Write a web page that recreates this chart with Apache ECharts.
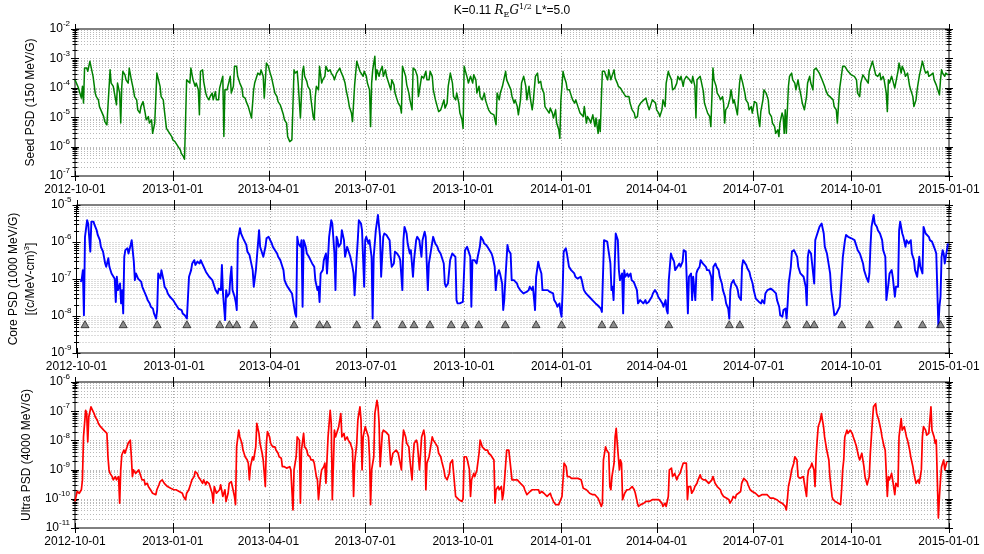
<!DOCTYPE html>
<html>
<head>
<meta charset="utf-8">
<script src="https://cdn.jsdelivr.net/npm/echarts@6/dist/echarts.min.js"></script>
<style>
  html, body { margin: 0; padding: 0; background: #fff; }
  #chart { width: 984px; height: 554px; }
</style>
</head>
<body>
<div id="chart"></div>
<script>
// Phase space density at K=0.11 RE G^1/2, L*=5.0, October 2012 - December 2014.
// Each series entry: [days since 2012-10-01, log10(PSD)].

const startDate = '2012-10-01';
const endDate = '2015-01-01';
const dateTicks = ['2012-10-01', '2013-01-01', '2013-04-01', '2013-07-01', '2013-10-01',
                   '2014-01-01', '2014-04-01', '2014-07-01', '2014-10-01', '2015-01-01'];

// decade range (log10) of each panel
const seedDecades = [-7, -2];
const coreDecades = [-9, -5];
const ultraDecades = [-11, -6];

const seedPsd = [
[0,-3.73],[3,-3.98],[6,-4.35],[7,-3.95],[8,-4.52],[9,-3.33],[11,-3.33],[12,-3.44],[14,-3.1],[16,-3.44],[17,-3.61],[19,-4.18],[20,-4.3],[22,-4.41],[23,-4.64],[25,-4.81],[27,-4.98],[28,-5.15],[30,-5.26],[31,-5.2],[33,-3.39],[34,-3.84],[36,-3.95],[37,-3.9],[39,-4.58],[40,-3.84],[42,-4.18],[43,-5.2],[44,-3.95],[45,-3.44],[47,-3.56],[48,-3.73],[50,-3.84],[51,-3.33],[53,-3.73],[55,-4.07],[56,-4.3],[58,-4.41],[59,-4.75],[61,-4.86],[62,-4.64],[64,-4.47],[66,-4.86],[67,-5.09],[69,-4.98],[70,-5.2],[72,-5.09],[73,-5.55],[75,-5.2],[77,-3.5],[80,-3.95],[81,-4.3],[83,-4.41],[84,-4.75],[86,-5.38],[87,-5.32],[89,-5.55],[91,-5.66],[92,-5.77],[94,-5.83],[95,-5.89],[97,-6.0],[99,-6.11],[100,-6.23],[102,-6.34],[103,-6.43],[104,-6.45],[105,-3.73],[106,-3.67],[108,-3.84],[109,-3.33],[111,-3.73],[113,-3.95],[114,-3.84],[116,-4.07],[117,-4.92],[118,-3.44],[120,-3.39],[121,-3.78],[123,-4.18],[124,-4.3],[126,-4.41],[127,-4.3],[129,-4.18],[130,-4.41],[132,-4.13],[133,-4.41],[135,-4.41],[136,-4.01],[138,-3.73],[139,-3.61],[140,-5.66],[141,-4.07],[143,-4.07],[144,-4.01],[146,-3.61],[147,-4.18],[149,-3.95],[150,-3.27],[152,-3.27],[153,-3.61],[155,-3.84],[157,-4.01],[158,-4.3],[160,-4.35],[161,-4.47],[163,-4.64],[164,-4.69],[166,-5.03],[168,-4.07],[169,-3.84],[171,-3.61],[172,-3.5],[174,-3.56],[175,-3.39],[177,-3.61],[178,-4.35],[180,-3.16],[182,-3.27],[183,-3.44],[185,-3.67],[186,-3.84],[188,-4.18],[190,-4.3],[191,-4.47],[193,-4.58],[194,-4.69],[196,-4.92],[197,-5.09],[199,-5.2],[200,-5.66],[202,-5.83],[203,-5.89],[204,-5.77],[206,-3.39],[207,-3.5],[209,-3.44],[210,-3.9],[211,-3.95],[212,-5.03],[214,-3.44],[215,-3.27],[216,-3.61],[218,-3.78],[219,-3.95],[221,-4.07],[222,-4.41],[224,-4.98],[225,-5.09],[226,-4.3],[227,-3.95],[229,-4.07],[230,-3.27],[232,-3.84],[233,-3.73],[235,-3.61],[236,-3.27],[238,-3.44],
[240,-3.39],[241,-3.5],[243,-3.61],[244,-3.73],[246,-3.5],[247,-3.44],[249,-3.33],[250,-3.44],[252,-3.61],[254,-3.84],[255,-4.07],[257,-4.41],[258,-4.64],[260,-4.86],[261,-5.15],[263,-3.9],[265,-3.1],[266,-3.16],[268,-3.44],[269,-3.5],[271,-3.61],[272,-3.44],[274,-3.61],[275,-3.84],[277,-4.07],[278,-5.32],[279,-3.84],[280,-3.39],[282,-2.93],[283,-3.73],[284,-3.39],[286,-3.61],[287,-3.44],[289,-3.27],[290,-3.61],[292,-3.39],[293,-3.61],[295,-3.84],[297,-4.07],[298,-3.73],[300,-3.9],[301,-4.18],[303,-4.41],[304,-4.52],[306,-4.64],[307,-4.86],[308,-3.27],[309,-3.22],[311,-3.61],[312,-3.9],[314,-4.18],[315,-4.41],[317,-4.75],[318,-3.33],[320,-3.39],[322,-3.61],[323,-4.3],[325,-3.84],[326,-3.61],[328,-3.67],[330,-3.44],[331,-3.73],[333,-3.73],[334,-3.44],[336,-3.61],[337,-4.07],[339,-4.41],[340,-4.47],[342,-4.81],[344,-4.75],[345,-4.64],[347,-4.41],[348,-4.69],[350,-4.52],[351,-3.95],[353,-3.5],[355,-3.84],[356,-4.3],[358,-4.41],[359,-4.18],[361,-4.52],[362,-4.86],[364,-5.09],[365,-5.38],[366,-3.27],[367,-3.27],[369,-3.67],[370,-3.84],[372,-3.61],[374,-3.84],[375,-3.56],[377,-3.73],[378,-4.18],[380,-3.95],[381,-4.3],[383,-4.41],[385,-4.18],[386,-4.41],[388,-4.64],[389,-4.75],[391,-4.86],[392,-4.92],[394,-4.92],[396,-5.26],[397,-4.18],[399,-4.41],[400,-4.18],[402,-3.95],[403,-3.78],[405,-3.44],[406,-3.73],[408,-3.9],[410,-4.07],[411,-4.3],[413,-4.52],[414,-4.41],[416,-4.64],[417,-4.92],[419,-4.41],[420,-3.84],[422,-3.61],[424,-3.95],[425,-4.41],[427,-3.95],[428,-4.3],[430,-4.75],[431,-4.47],[433,-3.61],[435,-3.5],[436,-3.84],[438,-3.78],[439,-4.01],[441,-4.18],[442,-4.64],[444,-4.75],[446,-4.86],[447,-4.69],[449,-4.86],[450,-5.03],[452,-4.75],[453,-5.2],[455,-5.43],[456,-5.72],[457,-4.41],[459,-3.44],[460,-3.61],[462,-3.84],[463,-4.07],[465,-4.07],[467,-4.3],[468,-4.41],[470,-4.52],[471,-4.41],[473,-4.64],[475,-4.86],[476,-4.92],[478,-4.98],[479,-4.64],[481,-5.2],[482,-4.98],[484,-5.09],[485,-5.2],[487,-4.92],[489,-5.32],[490,-5.03],[492,-5.55],[493,-5.09],[494,-5.49],[495,-4.41],[496,-3.44],[498,-3.44],[499,-3.56],[501,-3.73],[502,-3.39],[504,-3.73],[505,-3.61],[507,-3.39],[508,-3.67],[510,-3.84],[511,-3.95],[513,-4.01],[515,-4.13],[516,-4.07],[518,-4.3],[519,-4.35],[521,-4.3],[522,-4.52],[524,-4.75],[526,-4.86],[527,-5.03],[529,-4.98],[530,-4.64],[532,-4.52],[533,-4.58],[535,-4.41],[537,-4.35],[538,-4.52],[540,-4.75],[541,-4.64],[543,-4.41],[544,-4.41],[546,-4.52],[547,-4.75],[549,-4.86],
[550,-4.98],[552,-4.75],[553,-4.41],[555,-4.64],[556,-3.84],[558,-3.44],[559,-3.56],[561,-3.73],[562,-4.07],[564,-4.01],[566,-3.84],[567,-3.61],[569,-3.73],[570,-3.61],[572,-3.95],[573,-3.73],[575,-3.61],[576,-3.56],[578,-3.73],[580,-3.84],[581,-3.61],[583,-3.95],[584,-5.03],[585,-3.73],[586,-3.67],[588,-3.61],[589,-3.78],[591,-4.13],[592,-4.52],[594,-4.75],[595,-4.86],[597,-4.98],[598,-5.32],[600,-3.33],[601,-3.73],[603,-3.95],[604,-4.18],[606,-4.3],[607,-4.41],[609,-4.3],[610,-4.52],[611,-5.2],[612,-4.75],[614,-4.64],[616,-4.35],[617,-4.07],[619,-4.52],[620,-4.41],[622,-4.75],[623,-4.92],[625,-3.84],[626,-3.56],[628,-3.84],[630,-4.18],[631,-4.41],[633,-4.52],[634,-4.75],[636,-4.64],[637,-4.86],[639,-4.47],[641,-4.52],[642,-4.86],[644,-5.32],[645,-4.81],[647,-4.41],[648,-4.07],[650,-4.18],[652,-4.41],[653,-4.86],[655,-4.98],[656,-5.2],[658,-5.32],[659,-5.55],[661,-5.43],[662,-5.66],[663,-5.2],[665,-4.86],[666,-4.98],[667,-5.55],[668,-4.75],[669,-5.55],[671,-3.95],[672,-3.61],[674,-3.5],[675,-3.73],[677,-3.84],[678,-4.07],[680,-3.73],[681,-3.95],[683,-4.3],[684,-4.52],[686,-4.75],[688,-4.3],[689,-3.84],[691,-3.61],[692,-3.84],[694,-4.07],[695,-3.39],[697,-3.33],[698,-3.39],[700,-3.5],[702,-3.67],[703,-3.73],[705,-3.95],[706,-4.07],[708,-4.24],[710,-4.3],[711,-4.24],[713,-4.41],[714,-4.64],[716,-4.75],[717,-5.2],[719,-4.07],[720,-4.01],[722,-3.27],[724,-3.27],[725,-3.33],[727,-3.44],[728,-3.44],[730,-3.56],[731,-3.5],[733,-3.61],[735,-3.73],[736,-4.18],[738,-4.3],[739,-3.84],[741,-3.56],[742,-3.61],[744,-3.73],[746,-3.84],[747,-3.44],[749,-3.22],[750,-3.1],[752,-3.39],[753,-3.56],[755,-3.61],[757,-3.5],[758,-3.73],[760,-3.61],[761,-3.73],[763,-4.18],[764,-4.81],[765,-3.73],[766,-3.84],[768,-3.61],[769,-3.73],[771,-4.01],[772,-4.07],[774,-3.44],[775,-3.16],[777,-3.5],[778,-3.27],[780,-3.44],[781,-3.61],[783,-3.5],[785,-3.95],[786,-4.07],[788,-4.3],[789,-4.64],[791,-4.41],[792,-4.07],[794,-3.61],[796,-3.27],[797,-3.1],[799,-3.39],[800,-3.5],[802,-3.44],[803,-3.61],[805,-3.56],[807,-3.5],[808,-3.73],[810,-3.9],[811,-3.95],[813,-4.24],[814,-3.73],[815,-3.39],[816,-3.5],[818,-3.61],[819,-3.5],[821,-3.56]
];

const corePsd = [
[4,-7.08],[5,-6.99],[6,-6.76],[7,-7.98],[8,-5.86],[10,-5.41],[11,-5.5],[13,-6.26],[14,-5.45],[16,-5.45],[17,-5.54],[19,-5.68],[20,-5.81],[22,-5.95],[23,-6.13],[25,-6.26],[27,-6.58],[28,-6.67],[30,-6.44],[31,-6.67],[33,-6.85],[34,-6.81],[36,-6.99],[37,-7.62],[38,-6.94],[39,-7.3],[41,-7.12],[42,-7.66],[43,-7.3],[44,-7.93],[45,-6.4],[46,-6.22],[48,-6.17],[49,-6.31],[51,-6.08],[52,-5.95],[54,-6.53],[55,-7.03],[56,-6.85],[58,-6.99],[59,-6.99],[61,-7.08],[62,-7.21],[64,-7.35],[66,-7.48],[67,-7.57],[69,-7.66],[70,-7.75],[72,-7.8],[73,-7.93],[75,-8.07],[76,-7.84],[77,-6.85],[79,-6.99],[80,-6.76],[82,-7.03],[83,-7.21],[85,-7.3],[86,-7.39],[88,-7.48],[89,-7.53],[91,-7.57],[93,-7.66],[94,-7.71],[96,-7.8],[97,-7.84],[99,-7.84],[100,-7.93],[102,-7.98],[104,-8.07],[105,-8.11],[106,-6.94],[108,-6.76],[109,-6.58],[111,-6.49],[112,-6.62],[114,-6.53],[116,-6.58],[117,-6.49],[119,-6.62],[120,-6.67],[122,-6.81],[123,-6.76],[125,-6.94],[126,-6.9],[128,-7.03],[130,-7.21],[131,-7.3],[133,-7.39],[134,-7.26],[136,-7.3],[137,-6.62],[138,-7.39],[139,-7.75],[140,-8.11],[141,-7.3],[142,-7.48],[144,-7.39],[145,-6.94],[146,-6.67],[147,-7.3],[149,-7.48],[150,-7.62],[151,-7.84],[152,-5.95],[154,-5.63],[155,-5.77],[157,-5.9],[158,-5.95],[160,-6.08],[161,-6.26],[163,-6.35],[164,-6.49],[166,-6.76],[167,-7.21],[169,-6.76],[170,-6.4],[172,-5.68],[173,-6.13],[175,-6.31],[176,-6.4],[178,-6.13],[179,-5.9],[181,-5.86],[182,-5.9],[184,-6.04],[185,-6.13],[187,-6.22],[189,-6.31],[190,-6.4],[192,-6.49],[193,-6.58],[195,-6.76],[196,-7.03],[198,-7.17],[200,-7.26],[201,-7.3],[203,-7.39],[204,-7.57],[206,-7.93],[207,-8.02],[208,-5.86],[209,-6.04],[211,-6.13],[212,-5.95],[213,-7.75],[214,-5.95],[216,-6.13],[217,-6.31],[219,-6.4],[220,-6.4],[222,-6.58],[224,-6.67],[225,-7.03],[227,-7.3],[228,-7.21],[229,-7.62],[230,-6.85],[232,-6.76],[233,-6.49],[235,-6.31],[236,-6.85],[237,-6.4],[238,-5.86],
[240,-5.41],[241,-5.5],[243,-6.31],[244,-7.3],[245,-5.86],[246,-5.95],[247,-6.13],[249,-6.04],[250,-5.68],[252,-5.95],[253,-6.4],[255,-6.13],[257,-6.31],[258,-6.4],[260,-6.67],[261,-6.85],[262,-7.44],[264,-6.4],[265,-5.95],[266,-5.41],[268,-5.5],[269,-5.68],[271,-7.21],[272,-5.95],[273,-5.86],[275,-6.04],[276,-5.95],[278,-6.4],[279,-8.07],[280,-6.4],[281,-6.04],[282,-5.68],[284,-5.27],[285,-5.32],[286,-5.86],[287,-6.94],[289,-5.86],[290,-5.77],[292,-5.81],[293,-5.86],[295,-5.95],[296,-6.4],[297,-6.67],[299,-6.58],[300,-6.26],[302,-6.31],[304,-6.4],[305,-6.49],[307,-7.3],[308,-5.95],[309,-5.59],[311,-5.77],[312,-6.04],[314,-6.31],[315,-6.22],[317,-6.94],[318,-6.49],[320,-5.95],[321,-5.86],[323,-5.95],[325,-6.4],[326,-5.95],[328,-5.72],[329,-5.86],[331,-7.3],[332,-6.58],[333,-6.4],[335,-6.04],[336,-5.86],[338,-6.04],[340,-6.13],[341,-6.22],[343,-6.31],[344,-6.4],[346,-6.58],[347,-7.12],[348,-7.21],[350,-7.12],[351,-7.17],[352,-6.49],[354,-6.31],[355,-6.26],[357,-6.4],[358,-7.57],[359,-7.66],[361,-7.66],[362,-7.62],[364,-7.62],[365,-7.66],[366,-6.22],[368,-6.13],[369,-6.22],[371,-6.4],[372,-7.75],[373,-6.49],[375,-6.49],[377,-6.58],[378,-6.4],[380,-6.13],[381,-5.86],[383,-5.95],[384,-6.04],[386,-6.08],[388,-6.17],[389,-6.22],[391,-6.31],[392,-6.4],[394,-6.67],[395,-7.3],[396,-6.94],[398,-6.76],[399,-6.85],[401,-7.12],[402,-7.84],[403,-7.57],[404,-7.03],[406,-6.08],[407,-6.22],[409,-6.31],[410,-7.03],[412,-7.03],[413,-7.08],[415,-7.12],[416,-7.21],[418,-7.3],[419,-7.3],[421,-7.39],[422,-7.44],[424,-7.35],[426,-7.3],[427,-7.21],[429,-7.3],[430,-7.21],[432,-7.84],[433,-6.94],[435,-6.53],[436,-6.67],[438,-6.85],[439,-7.3],[441,-7.3],[442,-7.35],[444,-7.3],[446,-7.35],[447,-7.39],[449,-7.39],[450,-7.57],[452,-7.66],[453,-7.75],[455,-7.66],[456,-7.89],[457,-8.02],[458,-7.3],[459,-6.26],[461,-6.17],[462,-6.31],[464,-6.67],[466,-6.76],[467,-6.76],[469,-6.85],[470,-6.94],[472,-6.99],[473,-6.94],[475,-6.94],[476,-7.03],[478,-7.3],[480,-7.39],[481,-7.44],[483,-7.48],[484,-7.53],[486,-7.57],[487,-7.62],[489,-7.66],[491,-7.71],[492,-7.75],[494,-7.8],[495,-7.89],[497,-5.95],[498,-5.9],[500,-5.99],[501,-6.04],[503,-6.58],[504,-7.3],[505,-7.21],[506,-7.57],[507,-6.67],[508,-5.77],[509,-5.72],[510,-5.95],[511,-6.76],[512,-7.03],[514,-6.85],[515,-7.93],[516,-6.76],[517,-6.94],[519,-6.85],[520,-6.94],[522,-6.85],[523,-7.03],[525,-7.08],[526,-7.12],[528,-7.3],[529,-7.66],[531,-7.57],[532,-7.62],[534,-7.66],[536,-7.57],[537,-7.66],[539,-7.62],[540,-7.57],[542,-7.48],[543,-7.39],[545,-7.3],[547,-7.39],[548,-7.48],
[550,-7.57],[552,-7.66],[553,-7.75],[555,-7.57],[556,-7.84],[557,-7.93],[558,-7.03],[560,-6.31],[561,-6.4],[563,-6.53],[564,-6.76],[566,-6.67],[568,-6.58],[569,-6.67],[571,-6.53],[572,-6.22],[574,-6.26],[575,-6.31],[576,-7.93],[577,-6.94],[579,-6.85],[580,-7.57],[581,-6.94],[583,-7.57],[584,-6.85],[585,-6.76],[587,-6.67],[588,-6.49],[590,-6.58],[591,-6.62],[593,-6.67],[594,-6.76],[596,-6.76],[598,-6.94],[599,-7.57],[600,-6.67],[602,-6.58],[603,-6.67],[605,-6.76],[606,-6.94],[608,-7.12],[609,-7.3],[611,-7.48],[612,-7.66],[614,-7.8],[615,-8.07],[616,-7.3],[617,-7.12],[619,-7.03],[620,-7.12],[622,-7.21],[623,-7.3],[624,-7.48],[626,-7.57],[627,-6.67],[628,-6.49],[629,-6.53],[631,-6.62],[632,-6.71],[634,-6.81],[635,-6.94],[637,-7.12],[638,-7.3],[640,-7.53],[641,-7.57],[643,-7.62],[645,-7.66],[646,-7.57],[648,-7.66],[649,-7.39],[651,-7.3],[652,-7.3],[654,-7.26],[656,-7.3],[657,-7.26],[659,-7.39],[660,-7.57],[662,-7.75],[663,-7.98],[665,-8.02],[666,-7.84],[668,-7.8],[669,-8.07],[670,-7.66],[671,-7.12],[673,-6.67],[674,-6.26],[676,-6.22],[677,-6.26],[679,-6.4],[680,-6.67],[682,-6.85],[683,-6.85],[685,-6.94],[687,-7.21],[688,-7.71],[689,-6.4],[690,-6.22],[692,-6.31],[693,-6.26],[695,-7.12],[696,-5.95],[697,-5.86],[699,-5.68],[700,-5.59],[702,-5.5],[704,-5.77],[705,-6.13],[707,-6.31],[708,-6.49],[710,-6.85],[711,-7.3],[713,-7.75],[714,-7.98],[716,-7.93],[717,-7.89],[719,-7.75],[720,-7.3],[722,-6.4],[724,-5.95],[725,-5.81],[727,-5.86],[728,-5.81],[730,-5.9],[731,-5.86],[733,-5.95],[735,-6.13],[736,-6.22],[738,-6.31],[739,-6.4],[741,-6.58],[742,-6.76],[744,-6.94],[746,-7.08],[747,-6.85],[748,-6.13],[749,-5.59],[751,-5.27],[752,-5.5],[754,-5.59],[755,-5.68],[757,-5.77],[759,-5.95],[760,-6.22],[762,-6.4],[763,-7.57],[765,-7.12],[766,-6.85],[768,-6.76],[769,-6.94],[771,-7.48],[772,-7.21],[774,-7.21],[775,-5.68],[776,-5.45],[778,-5.77],[779,-5.86],[781,-6.13],[782,-5.95],[784,-6.04],[786,-5.95],[787,-6.31],[789,-6.49],[790,-6.76],[792,-6.94],[794,-6.4],[795,-6.67],[797,-6.85],[798,-5.59],[800,-5.77],[801,-5.77],[803,-5.86],[804,-5.95],[806,-5.99],[807,-6.04],[809,-6.22],[810,-6.31],[812,-8.29],[813,-7.75],[814,-7.48],[815,-6.4],[816,-6.22],[817,-6.31],[818,-6.58],[819,-6.4],[821,-6.04]
];

const ultraPsd = [
[0,-10.09],[1,-10.15],[2,-9.75],[4,-9.81],[6,-9.69],[7,-9.35],[8,-7.88],[9,-7.42],[10,-6.97],[11,-7.08],[12,-8.05],[13,-7.19],[15,-6.85],[16,-6.91],[18,-7.08],[19,-7.19],[21,-7.31],[22,-7.42],[24,-7.53],[25,-7.59],[27,-7.65],[28,-7.65],[30,-7.76],[31,-8.56],[32,-9.01],[33,-9.13],[35,-9.24],[36,-9.35],[38,-9.24],[39,-9.35],[41,-9.24],[42,-10.15],[43,-9.01],[44,-8.5],[46,-8.33],[47,-8.44],[49,-8.22],[50,-8.1],[52,-7.99],[53,-8.56],[54,-9.24],[55,-9.01],[57,-9.13],[58,-9.07],[60,-9.01],[62,-9.24],[63,-9.35],[65,-9.35],[66,-9.52],[68,-9.47],[69,-9.58],[71,-9.69],[73,-9.81],[74,-9.75],[76,-9.86],[77,-9.69],[79,-9.52],[80,-9.41],[82,-9.35],[84,-9.47],[85,-9.52],[87,-9.58],[88,-9.58],[90,-9.64],[91,-9.64],[93,-9.69],[95,-9.69],[96,-9.75],[98,-9.75],[99,-9.69],[101,-9.81],[102,-9.92],[104,-10.03],[105,-9.81],[107,-9.69],[109,-9.47],[110,-9.35],[112,-9.24],[113,-9.07],[115,-9.13],[116,-9.24],[118,-9.35],[120,-9.47],[121,-9.35],[123,-9.52],[124,-9.41],[126,-9.47],[127,-9.58],[129,-9.81],[130,-10.15],[131,-9.58],[133,-9.81],[134,-9.86],[136,-9.69],[137,-9.52],[139,-9.92],[141,-9.69],[142,-10.09],[144,-9.81],[145,-9.47],[147,-9.41],[148,-9.58],[150,-9.92],[151,-10.2],[152,-8.22],[154,-7.65],[155,-7.88],[157,-8.1],[158,-8.33],[160,-8.56],[162,-8.67],[163,-8.78],[164,-9.35],[165,-8.9],[167,-8.56],[168,-8.67],[170,-8.22],[171,-7.42],[173,-7.76],[174,-8.1],[176,-8.44],[177,-8.67],[179,-9.58],[180,-8.1],[181,-7.7],[183,-7.88],[184,-8.1],[186,-8.22],[188,-8.22],[189,-8.33],[191,-8.44],[192,-8.56],[194,-8.61],[195,-8.9],[197,-8.9],[199,-8.95],[200,-8.9],[202,-8.9],[203,-9.01],[205,-10.38],[206,-9.01],[208,-8.56],[209,-7.88],[211,-7.99],[212,-10.15],[213,-8.33],[215,-7.76],[216,-8.22],[218,-8.33],[219,-8.5],[221,-8.56],[222,-8.67],[224,-8.67],[225,-8.78],[227,-9.24],[228,-9.35],[229,-10.03],[231,-9.24],[232,-9.01],[234,-8.9],[235,-8.78],[236,-9.47],[238,-7.88],
[240,-6.97],[241,-7.42],[242,-10.03],[244,-7.65],[245,-7.88],[247,-7.65],[248,-7.53],[250,-7.08],[251,-7.88],[253,-7.76],[254,-7.99],[256,-7.88],[257,-7.99],[259,-8.1],[261,-8.33],[262,-9.92],[263,-8.78],[265,-8.1],[266,-7.31],[268,-6.85],[269,-7.31],[270,-9.01],[271,-7.88],[273,-7.53],[274,-7.65],[276,-7.88],[277,-8.56],[278,-10.2],[279,-9.01],[281,-8.56],[282,-7.08],[284,-6.63],[285,-6.85],[286,-7.42],[287,-8.9],[289,-7.76],[290,-7.65],[292,-7.7],[293,-7.76],[295,-7.82],[296,-8.33],[297,-8.84],[299,-8.44],[300,-8.39],[302,-8.33],[304,-8.44],[305,-8.39],[307,-9.01],[308,-8.1],[309,-7.65],[311,-7.88],[312,-8.1],[314,-8.22],[315,-8.67],[317,-9.35],[318,-8.56],[319,-8.1],[321,-7.99],[322,-8.1],[324,-9.01],[325,-8.44],[326,-7.88],[328,-7.65],[329,-7.88],[330,-9.69],[331,-8.78],[333,-8.56],[334,-8.33],[336,-7.88],[337,-7.99],[339,-8.1],[341,-8.22],[342,-8.44],[344,-8.56],[345,-8.73],[347,-9.01],[348,-9.24],[350,-9.35],[352,-9.13],[353,-8.78],[355,-8.67],[356,-8.73],[358,-9.92],[359,-9.98],[361,-10.03],[362,-10.03],[364,-10.09],[365,-9.98],[366,-8.56],[368,-8.56],[369,-8.67],[371,-9.01],[372,-9.92],[373,-9.35],[375,-9.13],[376,-9.24],[378,-9.01],[380,-8.44],[381,-7.99],[383,-8.22],[384,-8.22],[386,-8.33],[388,-8.33],[389,-8.44],[391,-8.5],[392,-8.56],[394,-8.67],[395,-10.15],[396,-9.69],[398,-9.58],[399,-9.69],[401,-9.58],[402,-10.03],[403,-9.81],[404,-9.35],[406,-8.33],[408,-8.33],[409,-8.67],[411,-9.35],[413,-9.35],[414,-9.3],[416,-9.35],[417,-9.41],[419,-9.47],[420,-9.47],[422,-9.58],[423,-9.69],[425,-9.86],[426,-9.81],[428,-9.75],[430,-9.69],[431,-9.75],[433,-9.69],[434,-9.64],[436,-9.69],[437,-9.81],[439,-9.75],[441,-9.81],[442,-9.86],[444,-9.92],[445,-9.86],[447,-9.81],[448,-9.92],[450,-10.09],[452,-10.2],[453,-10.15],[455,-10.2],[456,-10.15],[458,-9.92],[459,-9.35],[460,-8.78],[462,-8.9],[463,-9.24],[465,-9.24],[467,-9.3],[468,-9.24],[470,-9.3],[471,-9.24],[473,-9.3],[474,-9.24],[476,-9.35],[478,-9.64],[479,-9.69],[481,-9.69],[482,-9.75],[484,-9.81],[485,-9.81],[487,-9.86],[489,-9.86],[490,-9.92],[492,-9.98],[493,-10.03],[495,-10.26],[496,-10.15],[497,-8.67],[499,-8.22],[500,-8.33],[502,-8.44],[503,-9.58],[504,-9.69],[505,-9.24],[507,-8.78],[508,-7.88],[509,-7.59],[510,-8.1],[512,-9.01],[513,-8.67],[514,-8.78],[515,-10.03],[517,-9.81],[518,-9.75],[519,-9.69],[521,-9.69],[522,-9.64],[524,-9.58],[526,-9.69],[527,-9.81],[529,-10.15],[530,-10.26],[532,-10.2],[533,-10.15],[535,-10.15],[537,-10.09],[538,-10.15],[540,-10.09],[541,-10.09],[543,-10.03],[544,-10.09],[546,-10.03],[547,-9.98],[549,-10.03],
[550,-10.09],[552,-10.15],[553,-10.26],[555,-10.15],[556,-10.26],[558,-9.92],[559,-9.01],[561,-8.95],[562,-9.24],[564,-9.13],[566,-9.35],[567,-9.24],[569,-9.13],[570,-9.01],[572,-8.78],[573,-8.73],[575,-8.78],[576,-10.03],[577,-9.58],[579,-9.58],[580,-9.81],[582,-9.69],[583,-9.58],[585,-9.47],[586,-9.35],[588,-9.18],[589,-9.3],[591,-9.35],[593,-9.35],[594,-9.41],[596,-9.47],[597,-9.47],[599,-9.35],[600,-9.24],[602,-9.47],[604,-9.58],[605,-9.64],[607,-9.69],[608,-9.81],[610,-9.92],[611,-9.86],[613,-9.98],[615,-10.03],[616,-10.15],[618,-10.03],[619,-9.92],[621,-9.98],[622,-9.86],[624,-9.81],[626,-9.75],[627,-9.47],[629,-9.3],[630,-9.35],[632,-9.41],[633,-9.52],[635,-9.69],[637,-9.75],[638,-9.81],[640,-9.81],[641,-9.86],[643,-9.92],[644,-9.86],[646,-9.86],[647,-9.92],[649,-9.86],[651,-9.86],[652,-9.92],[654,-9.98],[655,-9.92],[657,-9.98],[658,-10.03],[660,-10.03],[662,-10.09],[663,-10.03],[665,-10.15],[666,-10.2],[668,-10.26],[669,-10.38],[670,-10.03],[671,-9.58],[673,-9.24],[674,-9.01],[676,-8.78],[677,-8.56],[679,-8.67],[680,-9.24],[682,-9.3],[683,-9.24],[685,-9.24],[686,-9.47],[688,-9.92],[689,-9.24],[690,-9.01],[692,-8.9],[693,-8.78],[695,-9.01],[696,-9.58],[697,-8.56],[698,-7.99],[699,-7.53],[701,-7.31],[702,-7.08],[704,-7.53],[705,-7.88],[707,-8.33],[709,-8.67],[710,-9.24],[712,-9.92],[713,-10.03],[715,-10.09],[716,-10.15],[718,-10.15],[720,-10.2],[721,-9.69],[722,-9.01],[723,-8.67],[724,-7.88],[726,-7.65],[727,-7.76],[729,-7.65],[731,-7.76],[732,-7.88],[734,-8.1],[735,-8.22],[737,-8.56],[738,-8.67],[740,-8.44],[742,-8.9],[743,-9.24],[745,-9.52],[746,-9.58],[747,-9.24],[748,-8.44],[750,-7.31],[751,-6.85],[753,-6.74],[754,-7.08],[756,-7.31],[758,-7.65],[759,-7.88],[761,-8.22],[762,-8.33],[764,-9.92],[765,-9.24],[766,-9.35],[768,-9.13],[769,-9.35],[771,-9.86],[772,-9.47],[774,-9.58],[775,-7.88],[777,-7.25],[778,-7.65],[780,-7.53],[782,-7.88],[783,-7.99],[785,-8.33],[786,-8.56],[788,-8.9],[789,-9.13],[791,-9.47],[793,-9.35],[794,-9.47],[796,-9.01],[797,-7.88],[798,-7.53],[800,-7.65],[801,-7.82],[803,-7.76],[805,-6.85],[806,-7.65],[808,-7.88],[809,-8.1],[810,-7.99],[812,-10.66],[813,-9.92],[814,-9.35],[815,-8.9],[817,-8.67],[818,-9.01],[820,-8.73]
];

// days (since 2012-10-01) of the events marked with triangles on the core panel
const eventDays = [8, 44, 76, 104, 135, 144, 151, 167, 205, 229, 236, 264, 283, 307, 318, 333, 353,
                   366, 379, 404, 433, 457, 495, 506, 558, 615, 625, 669, 688, 695, 721, 747, 774, 797, 814];
const eventLevel = 6e-9;

const FONT = '"Liberation Sans", Arial, Helvetica, sans-serif';
const SERIF = '"DejaVu Serif", "Liberation Serif", serif';

function dayOf(s) {
  const p = s.split('-').map(Number);
  const q = startDate.split('-').map(Number);
  return Math.round((Date.UTC(p[0], p[1] - 1, p[2]) - Date.UTC(q[0], q[1] - 1, q[2])) / 864e5);
}
const lastDay = dayOf(endDate);
const tickDays = dateTicks.map(dayOf);
const labelOfDay = {};
dateTicks.forEach((s, i) => { labelOfDay[tickDays[i]] = s; });

const toPsd = arr => arr.map(p => [p[0], Math.pow(10, p[1])]);

// log-axis gridline values: 1..9 x 10^n inside a decade range
function logGridValues(dec) {
  const out = [];
  for (let n = dec[0]; n < dec[1]; n++) {
    for (let k = 1; k < 10; k++) out.push([0, k * Math.pow(10, n)]);
  }
  out.push([0, Math.pow(10, dec[1])]);
  return out;
}

// dotted horizontal gridlines plus two-sided ticks on both vertical frame edges
function yDecor(gi, dec) {
  return {
    type: 'custom', xAxisIndex: gi, yAxisIndex: gi, silent: true, clip: false, z: 1,
    data: logGridValues(dec),
    renderItem(params, api) {
      const cs = params.coordSys;
      const v = api.value(1);
      const e = Math.log10(v);
      const major = Math.abs(e - Math.round(e)) < 1e-6;
      const y = Math.round(api.coord([0, v])[1]) + 0.5;
      const L = major ? 4 : 2.5;
      const x0 = cs.x, x1 = cs.x + cs.width;
      const kids = [];
      const edge = major && (Math.round(e) === dec[0] || Math.round(e) === dec[1]);
      if (!edge) {
        kids.push({ type: 'line', shape: { x1: x0, y1: y, x2: x1, y2: y },
          style: { stroke: '#b9b9b9', lineWidth: 1, lineDash: [1, 2] } });
      }
      kids.push({ type: 'line', shape: { x1: x0 - L, y1: y, x2: x0 + L, y2: y }, style: { stroke: '#000', lineWidth: 1 } });
      kids.push({ type: 'line', shape: { x1: x1 - L, y1: y, x2: x1 + L, y2: y }, style: { stroke: '#000', lineWidth: 1 } });
      return { type: 'group', children: kids };
    }
  };
}

// dotted vertical gridlines plus two-sided ticks on top and bottom frame edges
function xDecor(gi, dec) {
  const yv = Math.pow(10, dec[0]);
  return {
    type: 'custom', xAxisIndex: gi, yAxisIndex: gi, silent: true, clip: false, z: 1,
    data: tickDays.map(d => [d, yv]),
    renderItem(params, api) {
      const cs = params.coordSys;
      const x = Math.round(api.coord([api.value(0), yv])[0]) + 0.5;
      const yT = cs.y, yB = cs.y + cs.height;
      const kids = [];
      if (api.value(0) > 0 && api.value(0) < lastDay) {
        kids.push({ type: 'line', shape: { x1: x, y1: yT, x2: x, y2: yB },
          style: { stroke: '#a8a8a8', lineWidth: 1, lineDash: [1, 2] } });
      }
      kids.push({ type: 'line', shape: { x1: x, y1: yT - 5, x2: x, y2: yT + 5 }, style: { stroke: '#000', lineWidth: 1 } });
      kids.push({ type: 'line', shape: { x1: x, y1: yB - 5, x2: x, y2: yB + 5 }, style: { stroke: '#000', lineWidth: 1 } });
      return { type: 'group', children: kids };
    }
  };
}

const grids = [
  { left: 75, width: 874, top: 29, height: 147 },
  { left: 75, width: 874, top: 205, height: 148 },
  { left: 75, width: 874, top: 382, height: 146 }
].map(g => Object.assign({ show: true, borderColor: '#000', borderWidth: 1, backgroundColor: 'transparent' }, g));

function makeX(gi) {
  return {
    type: 'value', gridIndex: gi, min: 0, max: lastDay,
    axisLine: { show: false }, axisTick: { show: false }, splitLine: { show: false },
    axisLabel: {
      customValues: tickDays, hideOverlap: false,
      formatter: v => labelOfDay[Math.round(v)] || '',
      margin: 8, fontSize: 12, fontFamily: FONT, color: '#000'
    }
  };
}

const expRich = {
  b: { fontSize: 12, fontFamily: FONT, color: '#000', lineHeight: 18 },
  e: { fontSize: 8, fontFamily: FONT, color: '#000', verticalAlign: 'top', lineHeight: 9 }
};

function makeY(gi, dec, name, gap) {
  return {
    type: 'log', logBase: 10, gridIndex: gi,
    min: Math.pow(10, dec[0]), max: Math.pow(10, dec[1]), splitNumber: dec[1] - dec[0],
    axisLine: { show: false }, axisTick: { show: false }, splitLine: { show: false },
    axisLabel: {
      margin: 5,
      formatter: v => '{b|10}{e|' + Math.round(Math.log10(v)) + '}',
      rich: expRich
    },
    name: name, nameLocation: 'middle', nameGap: gap,
    nameTextStyle: {
      fontSize: 12, fontFamily: FONT, color: '#000',
      rich: {
        n: { fontSize: 12, fontFamily: FONT, color: '#000', lineHeight: 17 },
        s: { fontSize: 8, fontFamily: FONT, color: '#000', verticalAlign: 'top', lineHeight: 9 }
      }
    }
  };
}

const lineSeries = (gi, data, color, width) => ({
  type: 'line', xAxisIndex: gi, yAxisIndex: gi, data: toPsd(data),
  showSymbol: false, symbol: 'none', z: 3,
  lineStyle: { color: color, width: width, join: 'round' }, itemStyle: { color: color }
});

const chart = echarts.init(document.getElementById('chart'), null, { renderer: 'canvas' });
chart.setOption({
  animation: false,
  backgroundColor: '#fff',
  grid: grids,
  xAxis: [makeX(0), makeX(1), makeX(2)],
  yAxis: [
    makeY(0, seedDecades, 'Seed PSD (150 MeV/G)', 38),
    makeY(1, coreDecades, '{n|Core PSD (1000 MeV/G)}\n{n|[(c/MeV-cm)}{s|3}{n|]}', 37),
    makeY(2, ultraDecades, 'Ultra PSD (4000 MeV/G)', 42)
  ],
  graphic: [{
    type: 'text', x: 512, y: 11,
    style: {
      text: '{n|K=0.11 }{i|R}{sb|E}{i|G}{sp|1/2}{n| L*=5.0}',
      align: 'center', verticalAlign: 'middle',
      rich: {
        n: { fontSize: 12, fontFamily: FONT, fill: '#000', lineHeight: 16 },
        i: { fontSize: 12, fontFamily: SERIF, fontStyle: 'italic', fill: '#000', lineHeight: 16 },
        sb: { fontSize: 8, fontFamily: SERIF, fill: '#000', verticalAlign: 'bottom', lineHeight: 9 },
        sp: { fontSize: 8, fontFamily: SERIF, fill: '#000', verticalAlign: 'top', lineHeight: 9 }
      }
    }
  }],
  series: [
    yDecor(0, seedDecades), xDecor(0, seedDecades),
    yDecor(1, coreDecades), xDecor(1, coreDecades),
    yDecor(2, ultraDecades), xDecor(2, ultraDecades),
    lineSeries(0, seedPsd, '#008000', 1.5),
    lineSeries(1, corePsd, '#0000ff', 1.9),
    lineSeries(2, ultraPsd, '#ff0000', 1.7),
    {
      type: 'scatter', xAxisIndex: 1, yAxisIndex: 1, z: 4,
      data: eventDays.map(d => [d, eventLevel]),
      symbol: 'triangle', symbolSize: [8, 7],
      itemStyle: { color: '#707070', borderColor: '#000', borderWidth: 0.8 }
    }
  ]
});
</script>
</body>
</html>
